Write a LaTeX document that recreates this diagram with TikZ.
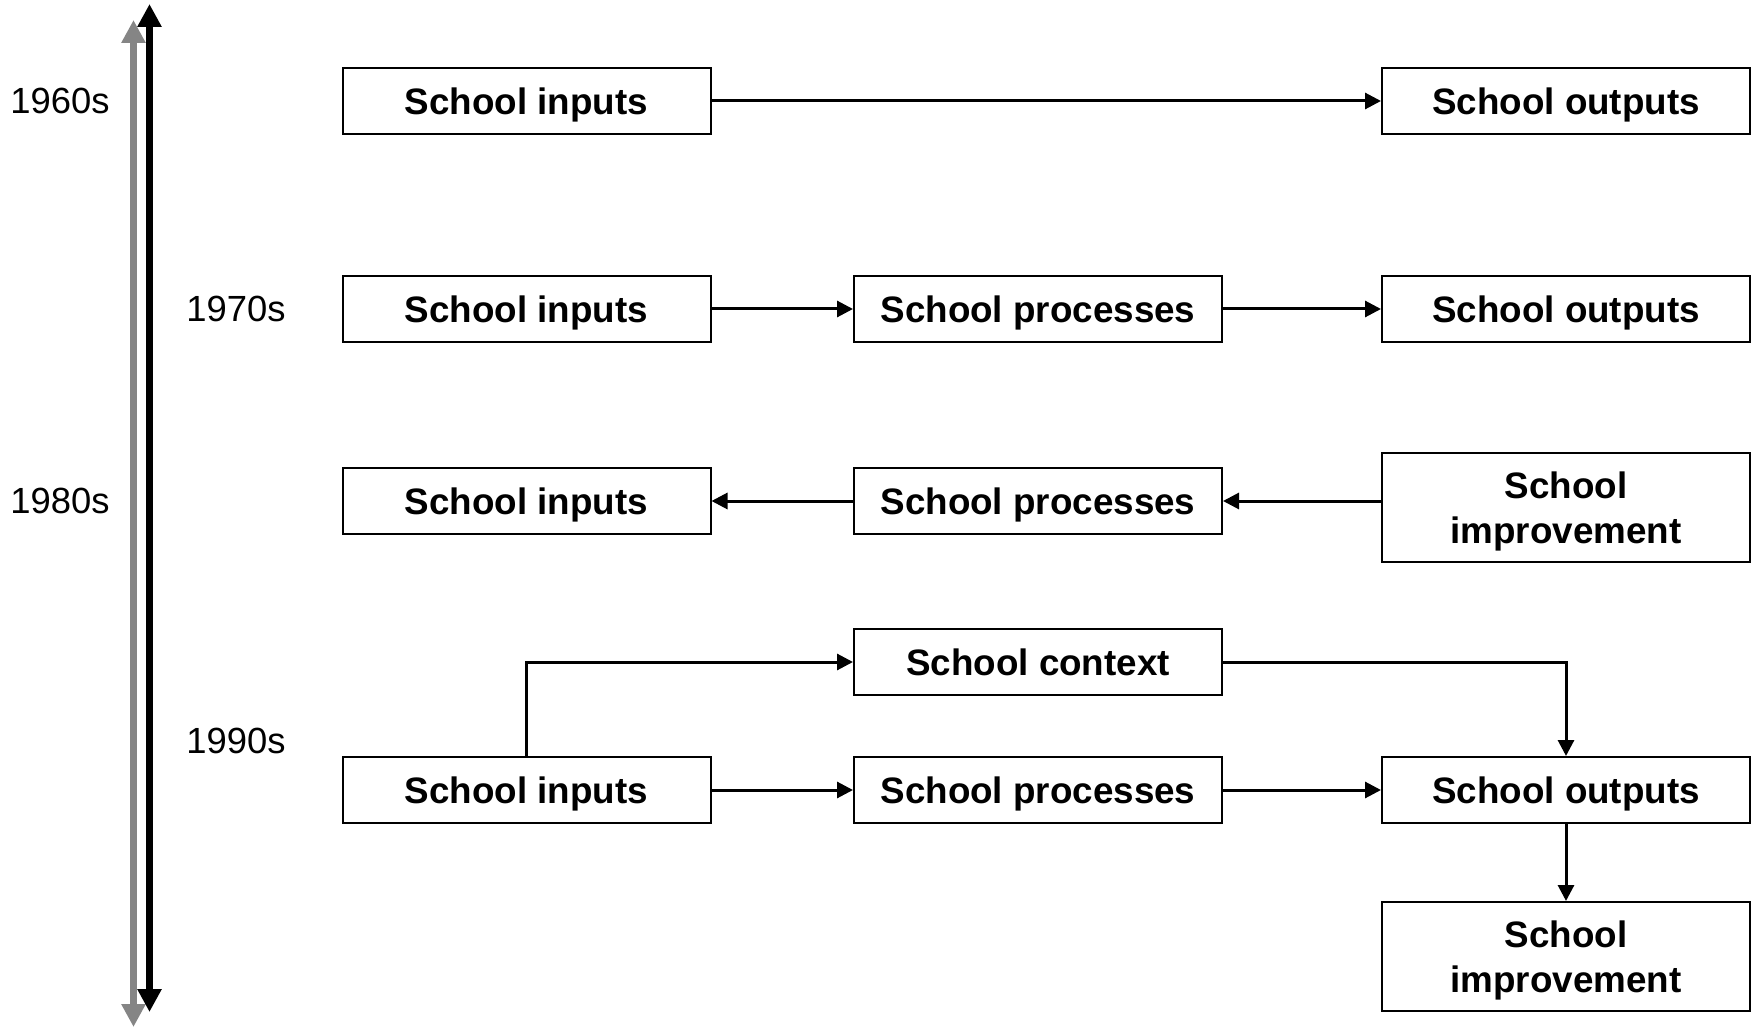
\documentclass[tikz,border=0pt]{standalone}
\usepackage{fontspec}
\setmainfont{Liberation Sans}
\usetikzlibrary{arrows.meta}

\begin{document}
\begin{tikzpicture}[->,>={Triangle[length=8pt,width=8pt]},line width=1.5pt,x=0.5pt,y=-0.5pt,
  box/.style={draw,line width=1pt,minimum width=184pt,minimum height=33pt,inner sep=0pt,
    text height=13.4pt,text depth=0pt,font=\fontsize{18.4}{22.4}\selectfont\bfseries},
  tallbox/.style={box,minimum height=54.5pt,align=center,text height=,text depth=-1pt},
  decade/.style={font=\fontsize{18.2}{22}\selectfont}]
  \useasboundingbox (0,0) rectangle (1757,1027);

  % time axis on the left
  \coordinate (g0) at (133.5,20);  \coordinate (g1) at (133.5,1027);
  \coordinate (b0) at (149.5,4);   \coordinate (b1) at (149.5,1012);
  \draw[<->,black!48,line width=3.5pt,>={Triangle[length=11.5pt,width=11.5pt]}] (g0) -- (g1);
  \draw[<->,line width=3.5pt,>={Triangle[length=11.5pt,width=11.5pt]}] (b0) -- (b1);

  \node[decade] (d60) at (60,101)  {1960s};
  \node[decade] (d70) at (236,309) {1970s};
  \node[decade] (d80) at (60,501)  {1980s};
  \node[decade] (d90) at (236,741) {1990s};

  % 1960s
  \node[box]     (in1)  at (526.5,101)  {School inputs};
  \node[box]     (out1) at (1566,101)   {School outputs};
  % 1970s
  \node[box]     (in2)  at (526.5,309)  {School inputs};
  \node[box]     (proc2) at (1038,309)  {School processes};
  \node[box]     (out2) at (1566,309)   {School outputs};
  % 1980s
  \node[box]     (in3)  at (526.5,501)  {School inputs};
  \node[box]     (proc3) at (1038,501)  {School processes};
  \node[tallbox] (imp3) at (1566,507.5) {School\\improvement};
  % 1990s
  \node[box]     (ctx)  at (1038,662)   {School context};
  \node[box]     (in5)  at (526.5,790)  {School inputs};
  \node[box]     (proc5) at (1038,790)  {School processes};
  \node[box]     (out5) at (1566,790)   {School outputs};
  \node[tallbox] (imp6) at (1566,956.5) {School\\improvement};

  \path[->]
        (in1)   edge (out1)
        (in2)   edge (proc2)
        (proc2) edge (out2)
        (proc3) edge (in3)
        (in5)   edge (proc5)
        (proc5) edge (out5)
        (out5)  edge (imp6);
  \draw (imp3.west |- proc3) -- (proc3);
  \draw (in5) |- (ctx);
  \draw (ctx) -| (out5);
\end{tikzpicture}
\end{document}
